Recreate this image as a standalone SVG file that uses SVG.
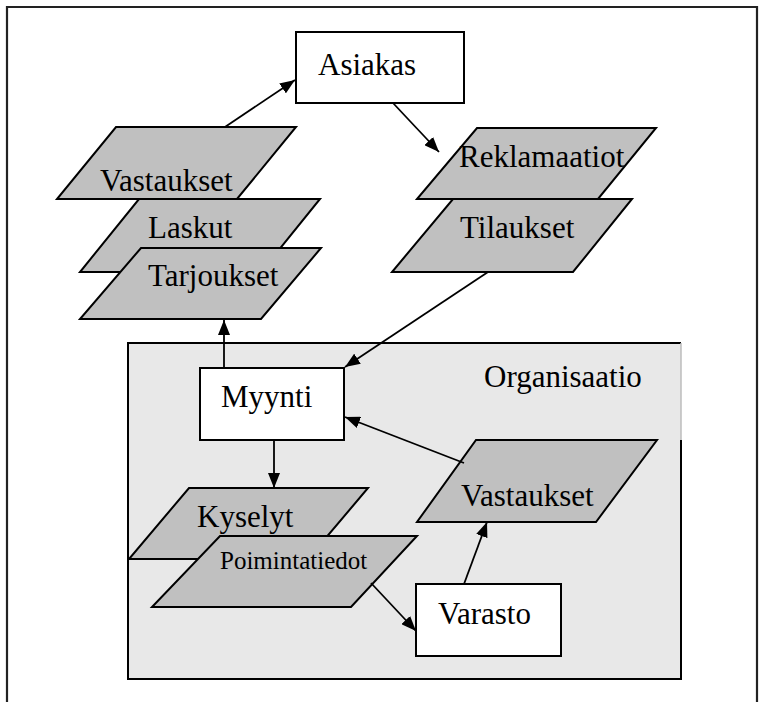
<svg xmlns="http://www.w3.org/2000/svg" width="764" height="702" viewBox="0 0 764 702">
<style>
.box{fill:#ffffff;stroke:#000;stroke-width:2}
.data{fill:#c0c0c0;stroke:#000;stroke-width:2;stroke-linejoin:miter}
.t{font-family:"Liberation Serif","Times New Roman",serif;font-size:31px;fill:#000}
.ts{font-family:"Liberation Serif","Times New Roman",serif;font-size:25px;fill:#000}
.c{stroke:#000;stroke-width:1.8;fill:none;marker-end:url(#ah)}
</style>
<defs>
<marker id="ah" viewBox="0 0 15 12" refX="15" refY="6" markerWidth="15" markerHeight="12" markerUnits="userSpaceOnUse" orient="auto">
<path d="M0,0 L15,6 L0,12 z" fill="#000"/>
</marker>
</defs>
<rect width="764" height="702" fill="#fff"/>
<g id="frame" fill="none" stroke="#222" stroke-width="2.2">
<path d="M7,702 L7,7 L757,7 L757,702"/>
</g>
<g id="organisaatio">
<rect x="128" y="343" width="553" height="336" fill="#e8e8e8"/>
<path d="M681,440 L681,679 L128,679 L128,343 L681,343" fill="none" stroke="#000" stroke-width="2"/>
<path d="M681,343 L681,440" stroke="#bdbdbd" stroke-width="1.5"/>
<text class="t" x="484" y="387">Organisaatio</text>
</g>
<g id="asiakas">
<rect class="box" x="296" y="32" width="168" height="71"/>
<text class="t" x="318" y="75">Asiakas</text>
</g>
<g id="vastaukset1">
<polygon class="data" points="116,127 296,127 237,199 57,199"/>
<text class="t" x="100" y="191">Vastaukset</text>
</g>
<g id="laskut">
<polygon class="data" points="139,199 320,199 261,272 80,272"/>
<text class="t" x="148" y="238">Laskut</text>
</g>
<g id="tarjoukset">
<polygon class="data" points="141,248 321,248 261,319 80,319"/>
<text class="t" x="148" y="286">Tarjoukset</text>
</g>
<g id="reklamaatiot">
<polygon class="data" points="477,128 656,128 598,199 417,199"/>
<text class="t" x="459" y="167">Reklamaatiot</text>
</g>
<g id="tilaukset">
<polygon class="data" points="453,199 632,199 573,272 392,272"/>
<text class="t" x="460" y="238">Tilaukset</text>
</g>
<g id="myynti">
<rect class="box" x="200" y="368" width="144" height="72"/>
<text class="t" x="221" y="407">Myynti</text>
</g>
<g id="kyselyt">
<polygon class="data" points="189,488 368,488 308,559 129,559"/>
<text class="t" x="197" y="527">Kyselyt</text>
</g>
<g id="poimintatiedot">
<polygon class="data" points="220,536 417,536 351,607 152,607"/>
<text class="ts" x="220" y="569">Poimintatiedot</text>
</g>
<g id="vastaukset2">
<polygon class="data" points="476,440 657,440 596,522 417,522"/>
<text class="t" x="461" y="506">Vastaukset</text>
</g>
<g id="varasto">
<rect class="box" x="416" y="584" width="145" height="72"/>
<text class="t" x="438" y="624">Varasto</text>
</g>
<g id="connectors">
<line class="c" x1="225" y1="127" x2="295" y2="80"/>
<line class="c" x1="393" y1="103" x2="439" y2="152"/>
<line class="c" x1="488" y1="272" x2="345" y2="367"/>
<line class="c" x1="224" y1="368" x2="224" y2="320"/>
<line class="c" x1="274" y1="440" x2="274" y2="488"/>
<line class="c" x1="464" y1="463" x2="345" y2="417"/>
<line class="c" x1="371" y1="583" x2="416" y2="631"/>
<line class="c" x1="464" y1="584" x2="487" y2="522"/>
</g>
</svg>
